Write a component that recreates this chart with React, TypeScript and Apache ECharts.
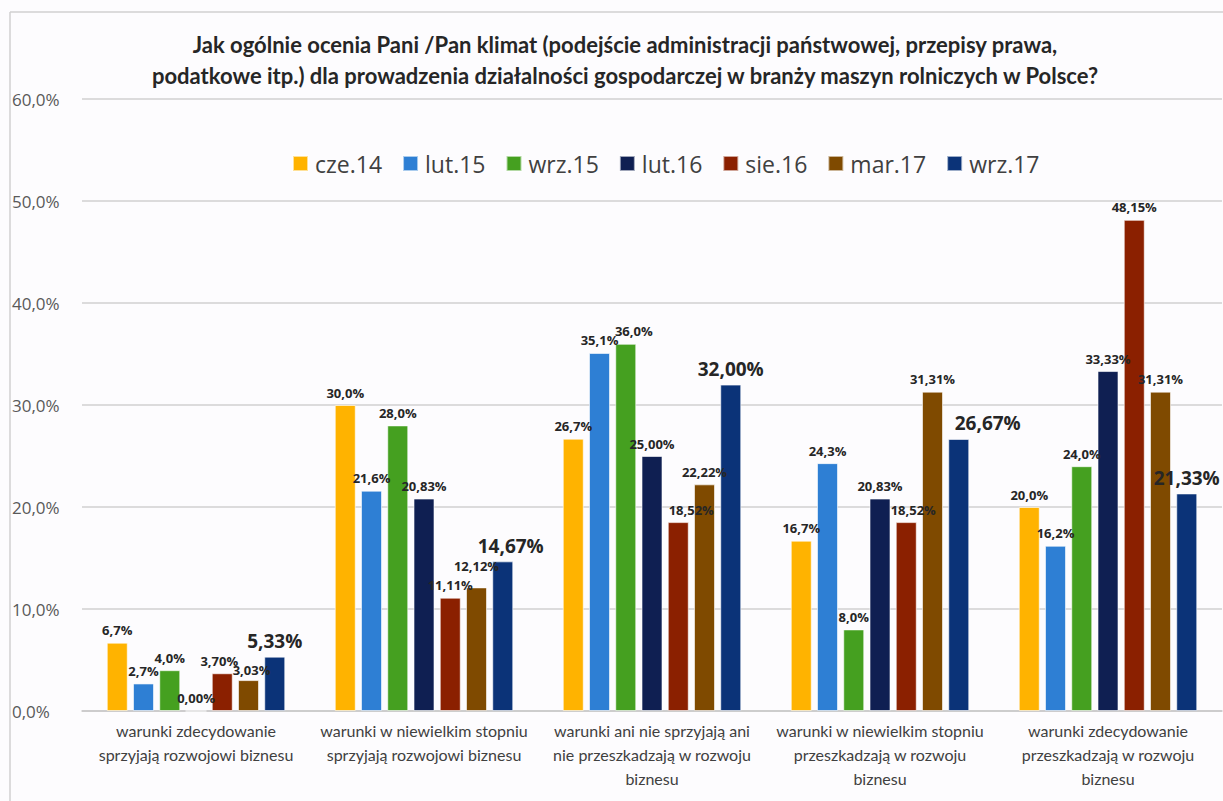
import React, { useEffect, useRef } from "react";
import * as echarts from "echarts";

const categories = [
  "warunki zdecydowanie\nsprzyjają rozwojowi biznesu",
  "warunki w niewielkim stopniu\nsprzyjają rozwojowi biznesu",
  "warunki ani nie sprzyjają ani\nnie przeszkadzają w rozwoju\nbiznesu",
  "warunki w niewielkim stopniu\nprzeszkadzają w rozwoju\nbiznesu",
  "warunki zdecydowanie\nprzeszkadzają w rozwoju\nbiznesu",
];

const seriesNames = ["cze.14", "lut.15", "wrz.15", "lut.16", "sie.16", "mar.17", "wrz.17"];
const cze14 = [6.7, 30.0, 26.7, 16.7, 20.0];
const lut15 = [2.7, 21.6, 35.1, 24.3, 16.2];
const wrz15 = [4.0, 28.0, 36.0, 8.0, 24.0];
const lut16 = [0.0, 20.83, 25.0, 20.83, 33.33];
const sie16 = [3.7, 11.11, 18.52, 18.52, 48.15];
const mar17 = [3.03, 12.12, 22.22, 31.31, 31.31];
const wrz17 = [5.33, 14.67, 32.0, 26.67, 21.33];
const seriesData = [cze14, lut15, wrz15, lut16, sie16, mar17, wrz17];
const decimals = [1, 1, 1, 2, 2, 2, 2];
const colors = ["#FFB300", "#2E7FD4", "#45A020", "#0F1F52", "#8B2000", "#7F4A00", "#0B3378"];

const titleText =
  "Jak ogólnie ocenia Pani /Pan klimat (podejście administracji państwowej, przepisy prawa,\npodatkowe itp.) dla prowadzenia działalności gospodarczej w branży maszyn rolniczych w Polsce?";

// manual label nudges (series index, category index) -> [dx, dy], as placed in the original
const labelNudges: Record<string, [number, number]> = {
  "4-0": [-3, 0],
  "5-0": [3, 2],
  "2-2": [8, 0],
  "5-1": [0, -9],
  "6-1": [8, 0],
  "4-2": [13, 0],
  "4-3": [7, 0],
  "6-3": [29, 0],
};

export default function App() {
  const ref = useRef<HTMLDivElement>(null);
  useEffect(() => {
    if (!ref.current) return;
    const chart = echarts.init(ref.current, null, { renderer: "svg" });
    const fmt = (v: number, d: number) => v.toFixed(d).replace(".", ",") + "%";
    chart.setOption({
      animation: false,
      backgroundColor: "#FDFCFE",
      title: {
        text: titleText,
        left: 620,
        textAlign: "center",
        top: 24,
        textStyle: {
          fontFamily: "Lato",
          fontWeight: "bold",
          fontSize: 22,
          lineHeight: 31,
          color: "#262626",
        },
      },
      legend: {
        left: 287,
        top: 147,
        itemWidth: 15,
        itemHeight: 15,
        itemGap: 20,
        icon: "rect",
        textStyle: { fontFamily: "Open Sans", fontSize: 23, color: "#404040", padding: [0, 0, 0, 2] },
        data: seriesNames,
      },
      graphic: [
        { type: "line", shape: { x1: 10, y1: 12, x2: 1223, y2: 12 }, style: { stroke: "#D0D0D0", lineWidth: 1.5 } },
        { type: "line", shape: { x1: 10, y1: 12, x2: 10, y2: 801 }, style: { stroke: "#D0D0D0", lineWidth: 1.5 } },
      ],
      grid: { left: 82, right: 1, top: 99, bottom: 90, containLabel: false },
      xAxis: {
        type: "category",
        data: categories,
        axisTick: { show: false },
        axisLine: { lineStyle: { color: "#C8C8C8", width: 1.5 } },
        axisLabel: {
          interval: 0,
          margin: 7,
          fontFamily: "Lato",
          fontSize: 16,
          lineHeight: 24,
          color: "#404040",
        },
      },
      yAxis: {
        type: "value",
        min: 0,
        max: 60,
        interval: 10,
        axisLine: { show: false },
        axisTick: { show: false },
        splitLine: { lineStyle: { color: "#D0D0D0", width: 1.5 } },
        axisLabel: {
          fontFamily: "Open Sans",
          fontSize: 17,
          color: "#595959",
          align: "left",
          margin: 70,
          formatter: (v: number) => fmt(v, 1),
        },
      },
      series: seriesNames.map((name, i) => ({
        name,
        type: "bar",
        data: seriesData[i].map((v, j) => {
          const n = labelNudges[`${i}-${j}`];
          return n ? { value: v, label: { offset: n } } : v;
        }),
        barWidth: 21,
        barGap: "25%",
        itemStyle: { color: colors[i], borderColor: "rgba(255,255,255,0.6)", borderWidth: 1 },
        label: {
          show: true,
          position: "top",
          distance: 6,
          fontFamily: "Open Sans",
          fontWeight: "bold",
          fontSize: i === 6 ? 19 : 13,
          color: "#262626",
          formatter: (p: any) => fmt(p.value, decimals[i]),
        },
      })),
    });
    return () => chart.dispose();
  }, []);
  return (
    <div
      ref={ref}
      style={{ position: "fixed", left: 0, top: 0, width: 1223, height: 801 }}
    />
  );
}
